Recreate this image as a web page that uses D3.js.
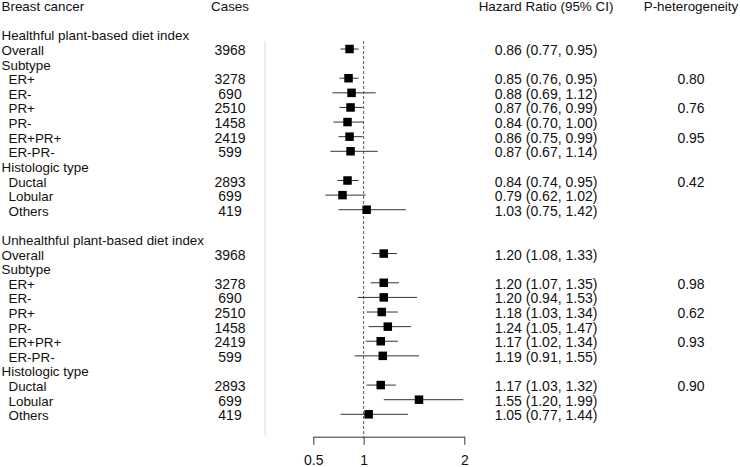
<!DOCTYPE html>
<html>
<head>
<meta charset="utf-8">
<script src="https://cdn.jsdelivr.net/npm/d3@7"></script>
<style>
  html, body { margin: 0; padding: 0; background: #fff; }
  svg { display: block; }
  text { font-family: "Liberation Sans", Arial, sans-serif; font-size: 13.4px; fill: #111; }
  text.num { font-size: 14px; }
</style>
</head>
<body>
<svg id="chart" width="740" height="467"></svg>
<script>
// ---- data ----
const rowLabels = [
  "Healthful plant-based diet index", "Overall", "Subtype", "ER+", "ER-", "PR+", "PR-", "ER+PR+", "ER-PR-",
  "Histologic type", "Ductal", "Lobular", "Others", "",
  "Unhealthful plant-based diet index", "Overall", "Subtype", "ER+", "ER-", "PR+", "PR-", "ER+PR+", "ER-PR-",
  "Histologic type", "Ductal", "Lobular", "Others"
];
const rowIndent = [0,0,0,1,1,1,1,1,1,0,1,1,1,0, 0,0,0,1,1,1,1,1,1,0,1,1,1];
const cases = [null,3968,null,3278,690,2510,1458,2419,599,null,2893,699,419,null,
               null,3968,null,3278,690,2510,1458,2419,599,null,2893,699,419];
const hr    = [null,0.86,null,0.85,0.88,0.87,0.84,0.86,0.87,null,0.84,0.79,1.03,null,
               null,1.20,null,1.20,1.20,1.18,1.24,1.17,1.19,null,1.17,1.55,1.05];
const ciLow = [null,0.77,null,0.76,0.69,0.76,0.70,0.75,0.67,null,0.74,0.62,0.75,null,
               null,1.08,null,1.07,0.94,1.03,1.05,1.02,0.91,null,1.03,1.20,0.77];
const ciHigh= [null,0.95,null,0.95,1.12,0.99,1.00,0.99,1.14,null,0.95,1.02,1.42,null,
               null,1.33,null,1.35,1.53,1.34,1.47,1.34,1.55,null,1.32,1.99,1.44];
const pHet  = [null,null,null,"0.80",null,"0.76",null,"0.95",null,null,"0.42",null,null,null,
               null,null,null,"0.98",null,"0.62",null,"0.93",null,null,"0.90",null,null];
const headers = ["Breast cancer", "Cases", "Hazard Ratio (95% CI)", "P-heterogeneity"];
const xTicks = [0.5, 1, 2];
const xTickLabels = ["0.5", "1", "2"];

// ---- layout ----
const svg = d3.select("#chart");
const x = d3.scaleLinear().domain([0.5, 2]).range([313.3, 464.3]);
// row index 0 = header, data rows start at index 2
const y = d3.scaleLinear().domain([3, 28]).range([49, 414.3]);
const textOff = 6;
const colCases = 230, colHR = 546, colP = 691;
const plotTop = 41, axisY = 436.7;

// header row
svg.append("text").attr("x", 1.5).attr("y", y(0) + textOff).text(headers[0]);
svg.append("text").attr("x", colCases).attr("y", y(0) + textOff).attr("text-anchor", "middle").text(headers[1]);
svg.append("text").attr("x", colHR).attr("y", y(0) + textOff).attr("text-anchor", "middle").text(headers[2]);
svg.append("text").attr("x", colP).attr("y", y(0) + textOff).attr("text-anchor", "middle").text(headers[3]);

const rows = rowLabels.map((l, i) => ({
  label: l, indent: rowIndent[i], cases: cases[i], hr: hr[i], lo: ciLow[i], hi: ciHigh[i], p: pHet[i], idx: i + 2
}));

// light grey separator line
svg.append("line").attr("x1", 265).attr("x2", 265).attr("y1", plotTop).attr("y2", axisY - 1)
  .attr("stroke", "#dcdcdc").attr("stroke-width", 1);

// reference dashed line at 1
svg.append("line").attr("x1", x(1)).attr("x2", x(1)).attr("y1", plotTop).attr("y2", axisY)
  .attr("stroke", "#555").attr("stroke-width", 1).attr("stroke-dasharray", "3,2");

// labels
const g = svg.append("g");
g.selectAll("text.lab").data(rows).join("text").attr("class", "lab")
  .attr("x", d => d.indent ? 8.5 : 1.5)
  .attr("y", d => y(d.idx) + textOff)
  .text(d => d.label);

g.selectAll("text.cases").data(rows.filter(d => d.cases != null)).join("text").attr("class", "cases num")
  .attr("x", colCases).attr("text-anchor", "middle")
  .attr("y", d => y(d.idx) + textOff)
  .text(d => d.cases);

g.selectAll("text.hr").data(rows.filter(d => d.hr != null)).join("text").attr("class", "hr num")
  .attr("x", colHR).attr("text-anchor", "middle")
  .attr("y", d => y(d.idx) + textOff)
  .text(d => `${d.hr.toFixed(2)} (${d.lo.toFixed(2)}, ${d.hi.toFixed(2)})`);

g.selectAll("text.p").data(rows.filter(d => d.p != null)).join("text").attr("class", "p num")
  .attr("x", colP).attr("text-anchor", "middle")
  .attr("y", d => y(d.idx) + textOff)
  .text(d => d.p);

// CI lines and squares
const est = rows.filter(d => d.hr != null);
svg.selectAll("line.ci").data(est).join("line").attr("class", "ci")
  .attr("x1", d => x(d.lo)).attr("x2", d => x(d.hi))
  .attr("y1", d => y(d.idx)).attr("y2", d => y(d.idx))
  .attr("stroke", "#333").attr("stroke-width", 1);

const sq = 8.5;
svg.selectAll("rect.pt").data(est).join("rect").attr("class", "pt")
  .attr("x", d => x(d.hr) - sq / 2).attr("y", d => y(d.idx) - sq / 2)
  .attr("width", sq).attr("height", sq).attr("fill", "#000");

// x axis (ticks downward)
const axis = d3.axisBottom(x).tickValues(xTicks).tickFormat((d, i) => xTickLabels[i])
  .tickSizeInner(8).tickSizeOuter(0).tickPadding(10);
const ag = svg.append("g").attr("transform", `translate(0,${axisY})`).call(axis);
ag.select(".domain").attr("stroke", "#333");
ag.selectAll(".tick line").attr("stroke", "#333");
ag.selectAll(".tick text").attr("fill", "#111").style("font-size", "14px")
  .style("font-family", '"Liberation Sans", Arial, sans-serif');
</script>
</body>
</html>
